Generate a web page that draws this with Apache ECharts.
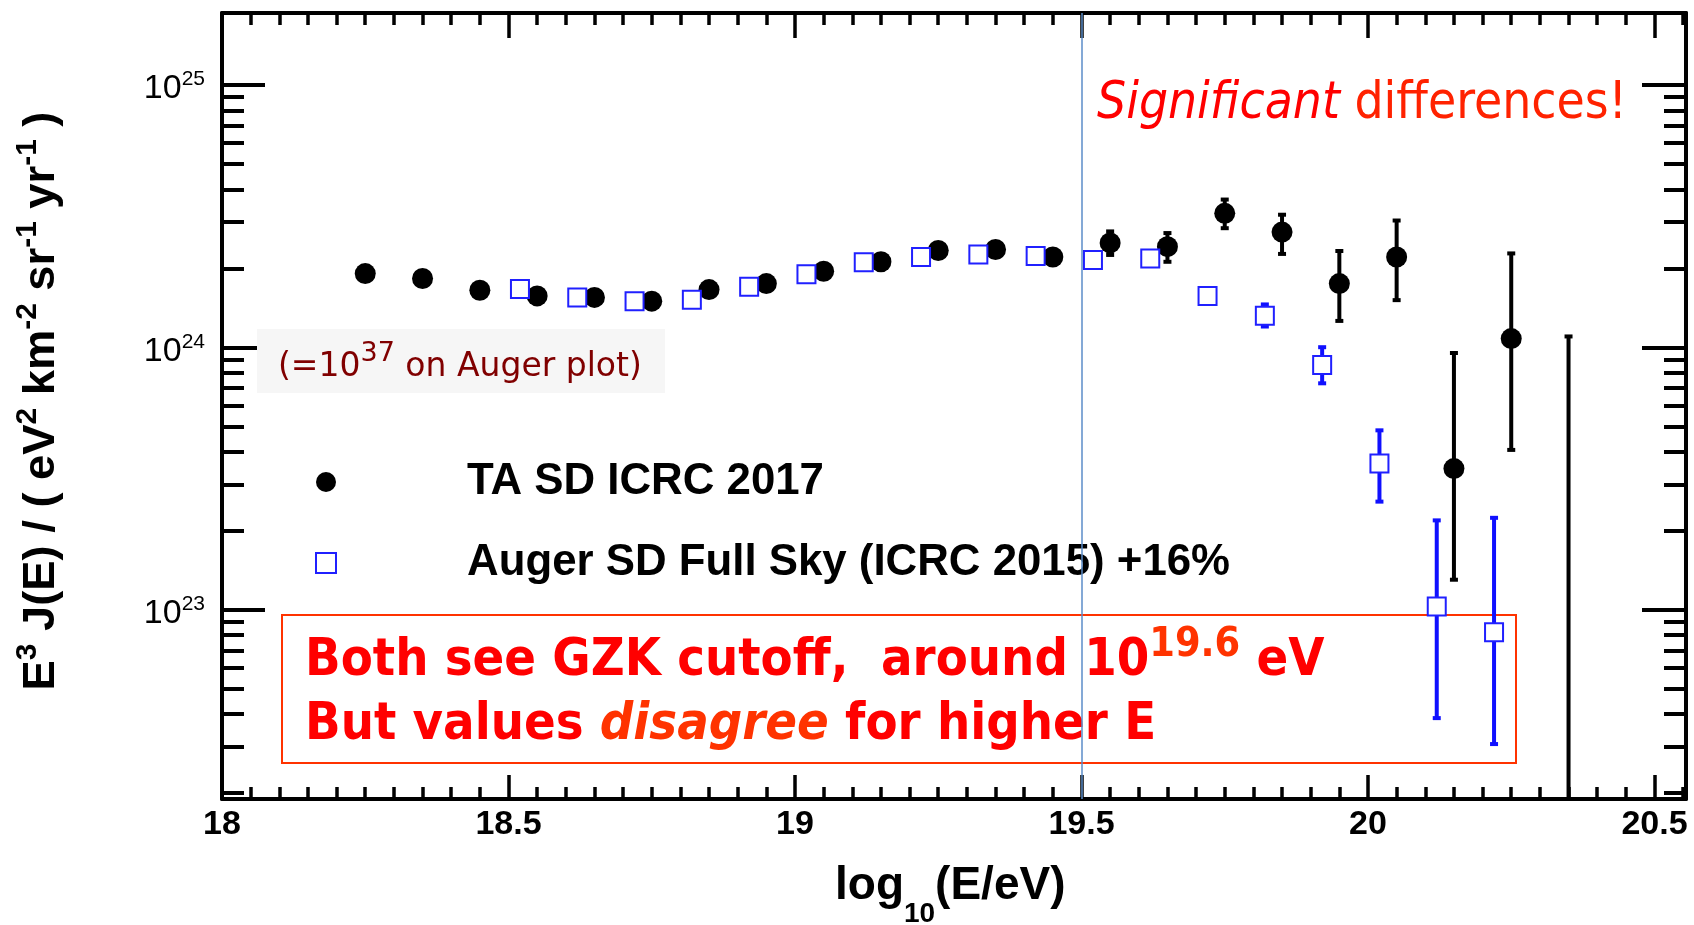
<!DOCTYPE html>
<html>
<head>
<meta charset="utf-8">
<script src="https://cdn.jsdelivr.net/npm/echarts@6/dist/echarts.min.js"></script>
<style>
  html, body { margin: 0; padding: 0; background: #ffffff; }
  #chart { width: 1694px; height: 925px; }
</style>
</head>
<body>
<div id="chart"></div>
<script>
// ---- TA SD ICRC 2017: bin centres (log10 E/eV) and E^3 J(E) ----
const taEnergy = [18.25, 18.35, 18.45, 18.55, 18.65, 18.75, 18.85, 18.95, 19.05, 19.15,
                  19.25, 19.35, 19.45, 19.55, 19.65, 19.75, 19.85, 19.95, 20.05, 20.15, 20.25];
const taFlux = [1.91e24, 1.83e24, 1.65e24, 1.57e24, 1.55e24, 1.50e24, 1.66e24, 1.75e24, 1.95e24, 2.12e24,
                2.34e24, 2.36e24, 2.21e24, 2.50e24, 2.42e24, 3.24e24, 2.75e24, 1.75e24, 2.21e24, 3.45e23, 1.08e24];
// error bars (null where the bar is hidden behind the marker)
const taErrLow  = [null, null, null, null, null, null, null, null, null, null,
                   null, null, null, 2.23e24, 2.10e24, 2.82e24, 2.25e24, 1.25e24, 1.50e24, 1.29e23, 4.03e23];
const taErrHigh = [null, null, null, null, null, null, null, null, null, null,
                   null, null, null, 2.79e24, 2.75e24, 3.69e24, 3.23e24, 2.35e24, 3.07e24, 9.60e23, 2.30e24];
// empty bin: only an upper bound is drawn
const taLimitEnergy = [20.35];
const taLimitHigh = [1.11e24];

// ---- Auger SD Full Sky (ICRC 2015) +16% ----
const augerEnergy = [18.52, 18.62, 18.72, 18.82, 18.92, 19.02, 19.12, 19.22, 19.32, 19.42,
                     19.52, 19.62, 19.72, 19.82, 19.92, 20.02, 20.12, 20.22];
const augerFlux = [1.67e24, 1.55e24, 1.50e24, 1.52e24, 1.70e24, 1.90e24, 2.11e24, 2.21e24, 2.26e24, 2.23e24,
                   2.15e24, 2.18e24, 1.57e24, 1.32e24, 8.56e23, 3.61e23, 1.03e23, 8.2e22];
const augerErrLow  = [null, null, null, null, null, null, null, null, null, null,
                      null, null, null, 1.19e24, 7.23e23, 2.56e23, 3.83e22, 3.05e22];
const augerErrHigh = [null, null, null, null, null, null, null, null, null, null,
                      null, null, null, 1.47e24, 1.01e24, 4.87e23, 2.21e23, 2.26e23];

// ---- axes ----
const xMin = 18, xMax = 20.555;
const yMin = 1.9e22, yMax = 1.88e25;
const xMajorTicks = [18, 18.5, 19, 19.5, 20, 20.5];
const yMajorTicks = [1e23, 1e24, 1e25];
const cutoffLine = 19.5;

const taName = 'TA SD ICRC 2017';
const augerName = 'Auger SD Full Sky (ICRC 2015) +16%';

// minor ticks: every 0.05 in x, 2..9 x 10^n in y
const xMinorTicks = [];
for (let k = 1; k <= 51; k++) {
  const v = Math.round((18 + k * 0.05) * 100) / 100;
  if (k % 10 !== 0 && v <= xMax) xMinorTicks.push(v);
}
const yMinorTicks = [];
for (let d = 22; d <= 25; d++) {
  for (let m = 2; m <= 9; m++) {
    const v = m * Math.pow(10, d);
    if (v >= yMin && v <= yMax) yMinorTicks.push(v);
  }
}

const taPoints = taEnergy.map((e, i) => [e, taFlux[i]]);
const augerPoints = augerEnergy.map((e, i) => [e, augerFlux[i]]);
const taBars = [];
taEnergy.forEach((e, i) => { if (taErrLow[i] != null) taBars.push([e, taErrLow[i], taErrHigh[i]]); });
const augerBars = [];
augerEnergy.forEach((e, i) => { if (augerErrLow[i] != null) augerBars.push([e, augerErrLow[i], augerErrHigh[i]]); });
const taLimits = taLimitEnergy.map((e, i) => [e, taLimitHigh[i]]);

const AXIS_FONT = "'Liberation Sans', Arial, Helvetica, sans-serif";
const NOTE_FONT = "'DejaVu Sans Condensed', 'DejaVu Sans', sans-serif";

// vertical error bar with small end caps
function errorBar(color) {
  return function (params, api) {
    const x = api.value(0);
    const top = api.coord([x, api.value(2)]);
    const bot = api.coord([x, api.value(1)]);
    return {
      type: 'group',
      children: [
        { type: 'line', shape: { x1: top[0], y1: top[1], x2: bot[0], y2: bot[1] }, style: { stroke: color, lineWidth: 4 } },
        { type: 'rect', shape: { x: top[0] - 4, y: top[1] - 1, width: 8, height: 4 }, style: { fill: color } },
        { type: 'rect', shape: { x: bot[0] - 4, y: bot[1] - 3, width: 8, height: 4 }, style: { fill: color } }
      ]
    };
  };
}
// bar from an upper value down to the bottom of the frame
function limitBar(color) {
  return function (params, api) {
    const x = api.value(0);
    const top = api.coord([x, api.value(1)]);
    const cs = params.coordSys;
    return {
      type: 'group',
      children: [
        { type: 'line', shape: { x1: top[0], y1: top[1], x2: top[0], y2: cs.y + cs.height }, style: { stroke: color, lineWidth: 4 } },
        { type: 'rect', shape: { x: top[0] - 4, y: top[1] - 1, width: 8, height: 4 }, style: { fill: color } }
      ]
    };
  };
}

function xAxisDef(position, ticks, len, line, labels) {
  return {
    type: 'value', position: position, min: xMin, max: xMax,
    splitLine: { show: false },
    axisLine: { show: line, onZero: false, lineStyle: { color: '#000', width: 4 } },
    axisTick: { show: true, inside: true, length: len, customValues: ticks, lineStyle: { color: '#000', width: 3.5 } },
    axisLabel: labels ? {
      show: true, customValues: ticks, margin: 9, color: '#000',
      fontFamily: AXIS_FONT, fontSize: 34, fontWeight: 'bold',
      formatter: v => String(v)
    } : { show: false }
  };
}
function yAxisDef(position, ticks, len, line, labels) {
  return {
    type: 'log', logBase: 10, position: position, min: yMin, max: yMax,
    splitLine: { show: false },
    axisLine: { show: line, onZero: false, lineStyle: { color: '#000', width: 4 } },
    axisTick: { show: true, inside: true, length: len, customValues: ticks, lineStyle: { color: '#000', width: 4 } },
    axisLabel: labels ? {
      show: true, customValues: ticks, margin: 17, padding: [5, 0, 0, 0],
      formatter: v => '{b|10}{s|' + Math.round(Math.log10(v)) + '}',
      rich: {
        b: { fontFamily: AXIS_FONT, fontSize: 34, color: '#000', lineHeight: 37, verticalAlign: 'bottom' },
        s: { fontFamily: AXIS_FONT, fontSize: 21, color: '#000', verticalAlign: 'top' }
      }
    } : { show: false }
  };
}

const chart = echarts.init(document.getElementById('chart'), null, { renderer: 'canvas' });
chart.setOption({
  animation: false,
  backgroundColor: '#ffffff',
  grid: { left: 222, right: 8, top: 13, bottom: 126, containLabel: false, outerBoundsMode: 'none' },
  xAxis: [
    xAxisDef('bottom', xMajorTicks, 24, true, true),
    xAxisDef('bottom', xMinorTicks, 12, false, false),
    xAxisDef('top', xMajorTicks, 25, true, false),
    xAxisDef('top', xMinorTicks, 12, false, false)
  ],
  yAxis: [
    yAxisDef('left', yMajorTicks, 43, true, true),
    yAxisDef('left', yMinorTicks, 22, false, false),
    yAxisDef('right', yMajorTicks, 44, true, false),
    yAxisDef('right', yMinorTicks, 22, false, false)
  ],
  legend: {
    orient: 'vertical', left: 315, top: 457, padding: 0,
    itemWidth: 20, itemHeight: 20, itemGap: 31, selectedMode: false,
    formatter: name => '{gap| }' + name,
    textStyle: {
      fontFamily: AXIS_FONT, fontSize: 43.8, fontWeight: 'bold', color: '#000', lineHeight: 50,
      rich: { gap: { width: 126 } }
    },
    data: [
      { name: taName, icon: 'circle', itemStyle: { color: '#000', opacity: 1 } },
      { name: augerName, icon: 'rect', itemStyle: { color: '#ffffff', borderColor: '#2020ff', borderWidth: 2, opacity: 1 } }
    ]
  },
  series: [
    {
      type: 'custom', name: 'TA errors', xAxisIndex: 0, yAxisIndex: 0, z: 2, silent: true,
      encode: { x: 0, y: [1, 2] }, renderItem: errorBar('#000'), data: taBars,
      markLine: {
        silent: true, symbol: ['none', 'none'], label: { show: false },
        lineStyle: { color: '#5b8cc8', width: 1.5, type: 'solid', opacity: 1 },
        data: [{ xAxis: cutoffLine }]
      }
    },
    {
      type: 'custom', name: 'TA limit', xAxisIndex: 0, yAxisIndex: 0, z: 2, silent: true,
      encode: { x: 0, y: 1 }, renderItem: limitBar('#000'), data: taLimits
    },
    {
      type: 'custom', name: 'Auger errors', xAxisIndex: 0, yAxisIndex: 0, z: 2, silent: true,
      encode: { x: 0, y: [1, 2] }, renderItem: errorBar('#1010ff'), data: augerBars
    },
    {
      type: 'scatter', name: taName, xAxisIndex: 0, yAxisIndex: 0, z: 3,
      symbol: 'circle', symbolSize: 21, itemStyle: { color: '#000', opacity: 1 }, data: taPoints
    },
    {
      type: 'scatter', name: augerName, xAxisIndex: 0, yAxisIndex: 0, z: 4,
      symbol: 'rect', symbolSize: 18,
      itemStyle: { color: '#ffffff', borderColor: '#2020ff', borderWidth: 2, opacity: 1 }, data: augerPoints
    }
  ],
  graphic: [
    // y axis title
    {
      type: 'text', x: 38.5, y: 401, rotation: Math.PI / 2, scaleX: 1.03, z: 1, silent: true,
      style: {
        text: '{m|E}{s|3}{m| J(E) / ( eV}{s|2}{m| km}{s|-2}{m| sr}{s|-1}{m| yr}{s|-1}{m| )}',
        align: 'center', verticalAlign: 'middle', fill: '#000',
        rich: {
          m: { fontFamily: AXIS_FONT, fontSize: 44, fontWeight: 'bold', fill: '#000', lineHeight: 51, verticalAlign: 'bottom' },
          s: { fontFamily: AXIS_FONT, fontSize: 29, fontWeight: 'bold', fill: '#000', verticalAlign: 'top' }
        }
      }
    },
    // x axis title
    {
      type: 'text', x: 835, y: 863, z: 1, silent: true,
      style: {
        text: '{m|log}{s|10}{m|(E/eV)}', align: 'left', verticalAlign: 'top', fill: '#000',
        rich: {
          m: { fontFamily: AXIS_FONT, fontSize: 46, fontWeight: 'bold', fill: '#000', lineHeight: 46, verticalAlign: 'top' },
          s: { fontFamily: AXIS_FONT, fontSize: 28, fontWeight: 'bold', fill: '#000', lineHeight: 65, verticalAlign: 'bottom' }
        }
      }
    },
    // unit note
    { type: 'rect', z: 1, silent: true, shape: { x: 257, y: 329, width: 408, height: 64 }, style: { fill: '#f6f6f6' } },
    {
      type: 'text', x: 278, y: 361.75, z: 1, silent: true,
      style: {
        text: '{m|(=10}{s|37}{m| on Auger plot)}', align: 'left', verticalAlign: 'middle', fill: '#800000',
        rich: {
          m: { fontFamily: "'DejaVu Sans', sans-serif", fontSize: 33, fill: '#800000', lineHeight: 43.5, verticalAlign: 'bottom' },
          s: { fontFamily: "'DejaVu Sans', sans-serif", fontSize: 27, fill: '#800000', verticalAlign: 'top' }
        }
      }
    },
    // headline
    {
      type: 'text', x: 1097, y: 104.5, z: 1, silent: true,
      style: {
        text: '{i|Significant}{r| differences!}', align: 'left', verticalAlign: 'middle', fill: '#ff0000',
        rich: {
          i: { fontFamily: NOTE_FONT, fontSize: 51, fontStyle: 'italic', fill: '#ff0000' },
          r: { fontFamily: NOTE_FONT, fontSize: 51, fill: '#ff2200' }
        }
      }
    },
    // conclusion box
    { type: 'rect', z: 1, silent: true, shape: { x: 282, y: 615, width: 1234, height: 148 }, style: { fill: 'none', stroke: '#ff3300', lineWidth: 2 } },
    {
      type: 'text', x: 305, y: 656, z: 1, silent: true,
      style: {
        text: '{b|Both see GZK cutoff,  around 10}{u|19.6}{b| eV}', align: 'left', verticalAlign: 'middle', fill: '#ff0000',
        rich: {
          b: { fontFamily: NOTE_FONT, fontSize: 52, fontWeight: 'bold', fill: '#ff0000', lineHeight: 62.5, verticalAlign: 'bottom' },
          u: { fontFamily: NOTE_FONT, fontSize: 41, fontWeight: 'bold', fill: '#ff3300', verticalAlign: 'top' }
        }
      }
    },
    {
      type: 'text', x: 305, y: 725, z: 1, silent: true,
      style: {
        text: '{b|But values }{i|disagree}{b| for higher E}', align: 'left', verticalAlign: 'middle', fill: '#ff0000',
        rich: {
          b: { fontFamily: NOTE_FONT, fontSize: 52, fontWeight: 'bold', fill: '#ff0000' },
          i: { fontFamily: NOTE_FONT, fontSize: 52, fontWeight: 'bold', fontStyle: 'italic', fill: '#ff3300' }
        }
      }
    }
  ]
});
</script>
</body>
</html>
